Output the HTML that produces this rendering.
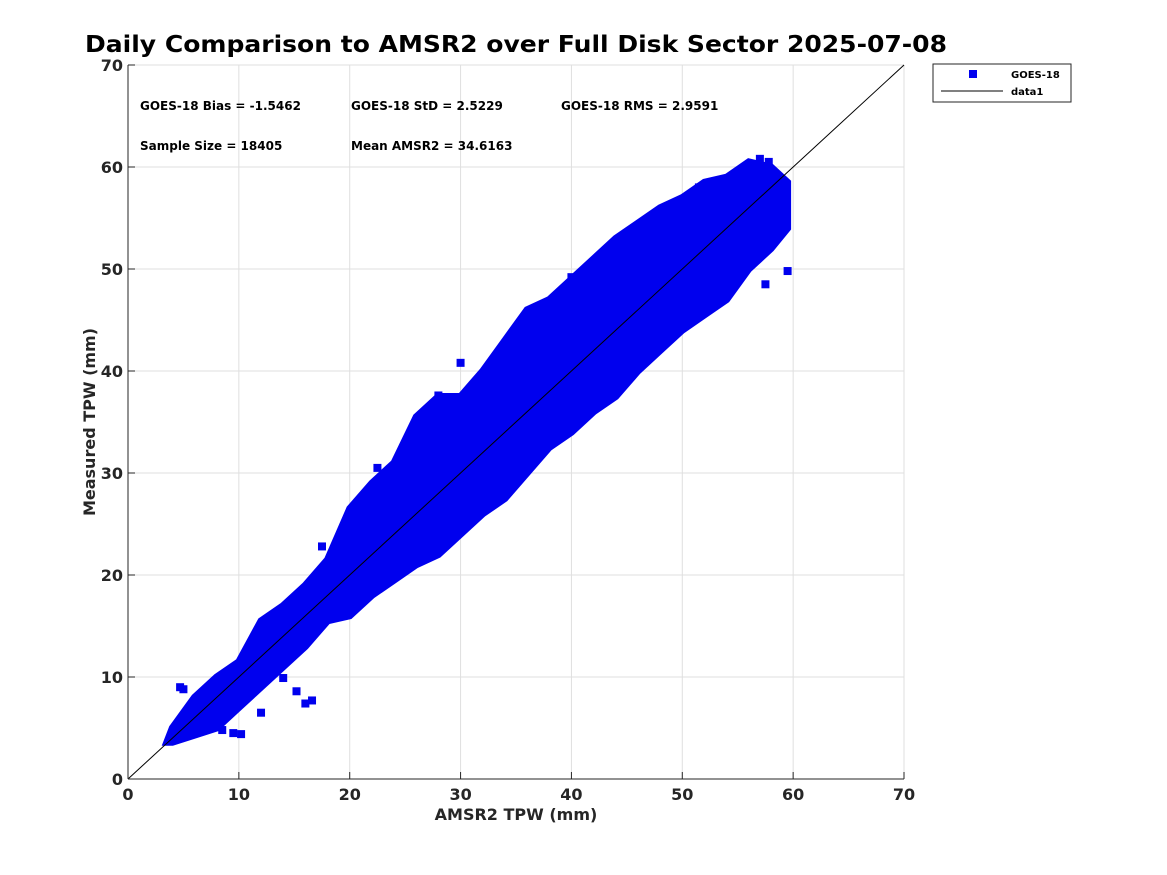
<!DOCTYPE html>
<html><head><meta charset="utf-8"><style>
html,body{margin:0;padding:0;background:#fff;}
svg{display:block;font-family:"DejaVu Sans","Liberation Sans",sans-serif;}
</style></head><body>
<svg id="chart" width="1167" height="875" xmlns="http://www.w3.org/2000/svg">
<rect x="0" y="0" width="1167" height="875" fill="#fff"/>
<text x="85" y="52" textLength="862" lengthAdjust="spacingAndGlyphs" font-size="23" font-weight="bold" fill="#000">Daily Comparison to AMSR2 over Full Disk Sector 2025-07-08</text>
<g id="grid"></g>
<g id="cloud"></g>
<g id="ticks"></g>
<text x="516" y="820" text-anchor="middle" font-size="16" font-weight="bold" fill="#262626">AMSR2 TPW (mm)</text>
<text transform="translate(95,422) rotate(-90)" text-anchor="middle" font-size="16" font-weight="bold" fill="#262626">Measured TPW (mm)</text>
<g font-size="12" font-weight="bold" fill="#000">
<text x="140" y="110">GOES-18 Bias = -1.5462</text>
<text x="351" y="110">GOES-18 StD = 2.5229</text>
<text x="561" y="110">GOES-18 RMS = 2.9591</text>
<text x="140" y="150">Sample Size = 18405</text>
<text x="351" y="150">Mean AMSR2 = 34.6163</text>
</g>
<g>
<rect x="933" y="64" width="138" height="38" fill="#fff" stroke="#262626" stroke-width="1"/>
<rect x="969" y="70" width="8" height="8" fill="#0000ee"/>
<text x="1011" y="78" font-size="10" font-weight="bold">GOES-18</text>
<line x1="941" y1="91" x2="1003" y2="91" stroke="#000" stroke-width="1"/>
<text x="1011" y="95" font-size="10" font-weight="bold">data1</text>
</g>
</svg>
<script>
const xTicks=[0,10,20,30,40,50,60,70];
const yTicks=[0,10,20,30,40,50,60,70];
// upper envelope of point cloud (AMSR2, measured)
const upperX=[3.5,4,6,8,10,12,14,16,18,20,22,24,26,28,30,32,34,36,38,40,42,44,46,48,50,52,54,56,58,59.5];
const upperY=[3.6,5,8,10,11.5,15.5,17,19,21.5,26.5,29,31,35.5,37.5,37.5,40,43,46,47,49,51,53,54.5,56,57,58.5,59,60.5,60,58.5];
// lower envelope
const lowerX=[59.5,58,56,54,52,50,48,46,44,42,40,38,36,34,32,30,28,26,24,22,20,18,16,14,12,10,8,6,4];
const lowerY=[54,52,50,47,45.5,44,42,40,37.5,36,34,32.5,30,27.5,26,24,22,21,19.5,18,16,15.5,13,11,9,7,5,4.3,3.6];
// scattered outliers
const outX=[4.7,5.0,9.5,10.2,15.2,16.0,16.6,14.0,12.0,8.5,40.0,42.5,51.0,51.5,57.0,57.8,59.5,57.5,30.0,45.0,17.5,22.5,39.0,36.0,28.0,52.0];
const outY=[9.0,8.8,4.5,4.4,8.6,7.4,7.7,9.9,6.5,4.8,49.2,50.0,57.0,58.0,60.8,60.5,49.8,48.5,40.8,43.6,22.8,30.5,46.3,45.0,37.6,57.6];
const X0=128,X1=904,Y0=779,Y1=65;
const sx=v=>X0+(v-0)/(70-0)*(X1-X0);
const sy=v=>Y0-(v-0)/(70-0)*(Y0-Y1);
const NS='http://www.w3.org/2000/svg';
function mk(t,a,p){const e=document.createElementNS(NS,t);for(const k in a)e.setAttribute(k,a[k]);p.appendChild(e);return e;}
const grid=document.getElementById('grid'),ticks=document.getElementById('ticks'),cloud=document.getElementById('cloud');
xTicks.forEach(v=>{const l=mk('line',{x1:sx(v),x2:sx(v),y1:Y0,y2:Y1,stroke:'#dfdfdf','stroke-width':1},grid);

});
yTicks.forEach(v=>{const l=mk('line',{x1:X0,x2:X1,y1:sy(v),y2:sy(v),stroke:'#dfdfdf','stroke-width':1},grid);

});
let pts=[];
upperX.forEach((x,i)=>pts.push(sx(x)+','+sy(upperY[i])));
lowerX.forEach((x,i)=>pts.push(sx(x)+','+sy(lowerY[i])));
const poly=mk('polygon',{points:pts.join(' '),fill:'#0000ee',stroke:'#0000ee','stroke-width':7,'stroke-linejoin':'miter'},cloud);


outX.forEach((x,i)=>{const r=mk('rect',{x:sx(x)-4,y:sy(outY[i])-4,width:8,height:8,fill:'#0000ee'},cloud);

});
const ref=mk('line',{x1:sx(0),y1:sy(0),x2:sx(70),y2:sy(70),stroke:'#000','stroke-width':1},cloud);


mk('line',{x1:X0,x2:X1,y1:Y0,y2:Y0,stroke:'#262626','stroke-width':1},ticks);
mk('line',{x1:X0,x2:X0,y1:Y0,y2:Y1,stroke:'#262626','stroke-width':1},ticks);
xTicks.forEach(v=>{mk('line',{x1:sx(v),x2:sx(v),y1:Y0,y2:Y0-7,stroke:'#262626'},ticks);
const t=mk('text',{x:sx(v),y:Y0+21,'text-anchor':'middle','font-size':16,'font-weight':'bold',fill:'#262626'},ticks);t.textContent=v;

});
yTicks.forEach(v=>{mk('line',{x1:X0,x2:X0+7,y1:sy(v),y2:sy(v),stroke:'#262626'},ticks);
const t=mk('text',{x:X0-5,y:sy(v)+6,'text-anchor':'end','font-size':16,'font-weight':'bold',fill:'#262626'},ticks);t.textContent=v;

});
</script>
</body></html>
